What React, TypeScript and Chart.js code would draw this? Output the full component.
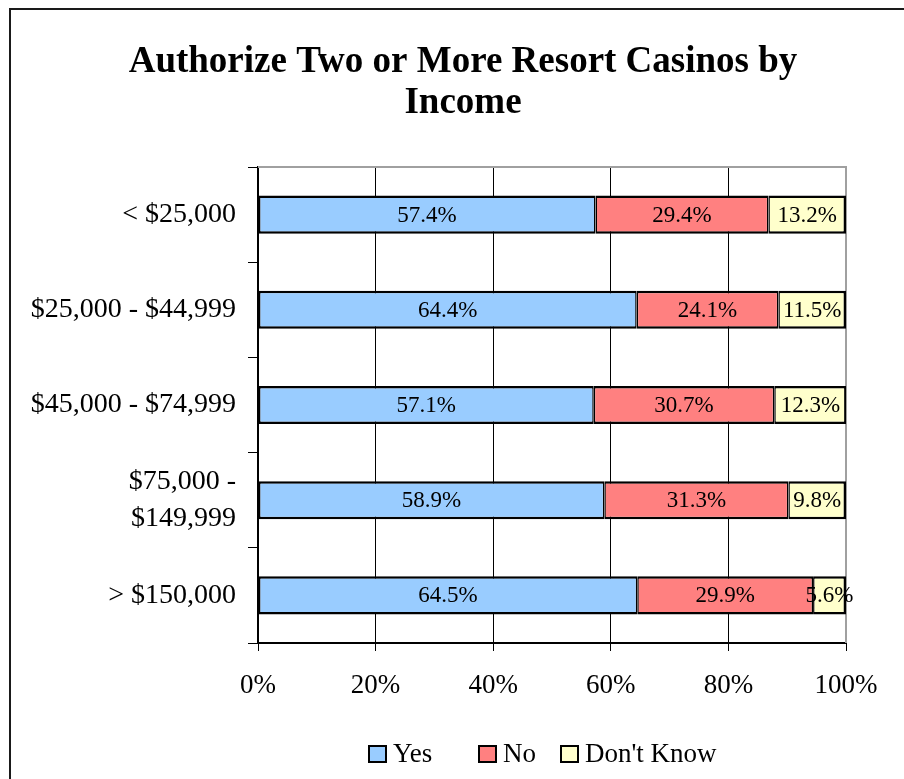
import React, { useEffect, useRef } from "react";
import { Chart, registerables } from "chart.js";

Chart.register(...registerables);

const TITLE_LINES = ["Authorize Two or More Resort Casinos by", "Income"];
const CATEGORIES: (string | string[])[] = [
  "< $25,000",
  "$25,000 - $44,999",
  "$45,000 - $74,999",
  ["$75,000 -", "$149,999"],
  "> $150,000",
];
const SERIES_NAMES = ["Yes", "No", "Don't Know"];
const YES = [57.4, 64.4, 57.1, 58.9, 64.5];
const NO = [29.4, 24.1, 30.7, 31.3, 29.9];
const DONT_KNOW = [13.2, 11.5, 12.3, 9.8, 5.6];
const COLORS = ["#99CCFF", "#FF8080", "#FFFFCC"];
const X_TICKS = [0, 20, 40, 60, 80, 100];

const FONT = "'Liberation Serif', 'Times New Roman', serif";

const framePlugin = {
  id: "frame",
  beforeDraw(chart: any) {
    const ctx = chart.ctx;
    ctx.save();
    ctx.fillStyle = "#ffffff";
    ctx.fillRect(0, 0, chart.width, chart.height);
    ctx.strokeStyle = "#1a1a1a";
    ctx.lineWidth = 2;
    ctx.strokeRect(10, 9, chart.width + 20, chart.height + 20);
    // title
    ctx.fillStyle = "#000";
    ctx.font = `bold 37px ${FONT}`;
    ctx.textAlign = "center";
    ctx.textBaseline = "alphabetic";
    ctx.fillText(TITLE_LINES[0], 463, 72);
    ctx.fillText(TITLE_LINES[1], 463, 113);
    ctx.restore();
  },
  beforeDatasetsDraw(chart: any) {
    const { ctx, chartArea } = chart;
    ctx.save();
    ctx.strokeStyle = "#a0a0a0";
    ctx.lineWidth = 2;
    ctx.beginPath();
    ctx.moveTo(chartArea.left, chartArea.top);
    ctx.lineTo(chartArea.right, chartArea.top);
    ctx.lineTo(chartArea.right, chartArea.bottom);
    ctx.stroke();
    ctx.restore();
  },
  afterDatasetsDraw(chart: any) {
    const ctx = chart.ctx;
    ctx.save();
    ctx.fillStyle = "#000";
    ctx.font = `23px ${FONT}`;
    ctx.textAlign = "center";
    ctx.textBaseline = "middle";
    chart.data.datasets.forEach((ds: any, di: number) => {
      const meta = chart.getDatasetMeta(di);
      meta.data.forEach((bar: any, i: number) => {
        const v = ds.data[i];
        const cx = (bar.x + bar.base) / 2;
        ctx.fillText(v.toFixed(1) + "%", cx, bar.y + 1);
      });
    });
    // legend
    const starts = [368, 478, 560];
    ctx.font = `27px ${FONT}`;
    ctx.textAlign = "left";
    ctx.textBaseline = "middle";
    SERIES_NAMES.forEach((name, i) => {
      const x = starts[i];
      ctx.fillStyle = COLORS[i];
      ctx.fillRect(x + 1, 746, 17, 16);
      ctx.strokeStyle = "#000";
      ctx.lineWidth = 2;
      ctx.strokeRect(x + 1, 746, 17, 16);
      ctx.fillStyle = "#000";
      ctx.fillText(name, x + 25, 755);
    });
    ctx.restore();
  },
};

function borders(i: number) {
  if (i === 0) return { top: 2.5, bottom: 2.5, left: 2, right: 1.5 };
  if (i === 2) return { top: 2.5, bottom: 2.5, left: 1.5, right: 2.5 };
  return { top: 2.5, bottom: 2.5, left: 1.5, right: 1.5 };
}

export default function App() {
  const ref = useRef<HTMLCanvasElement>(null);
  useEffect(() => {
    if (!ref.current) return;
    const seriesValues = [YES, NO, DONT_KNOW];
    const chart = new Chart(ref.current, {
      type: "bar",
      data: {
        labels: CATEGORIES as any,
        datasets: SERIES_NAMES.map((name, i) => ({
          label: name,
          data: seriesValues[i],
          backgroundColor: COLORS[i],
          borderColor: "#000",
          borderWidth: borders(i),
          borderSkipped: false,
          barPercentage: 0.4,
          categoryPercentage: 1,
        })),
      },
      options: {
        indexAxis: "y",
        responsive: false,
        animation: false,
        layout: { padding: { left: 0, right: 58, top: 167, bottom: 76 } },
        plugins: {
          legend: { display: false },
          title: { display: false },
          tooltip: { enabled: false },
        },
        scales: {
          x: {
            stacked: true,
            min: 0,
            max: 100,
            afterBuildTicks(scale: any) {
              scale.ticks = X_TICKS.map((v) => ({ value: v }));
            },
            afterFit(scale: any) {
              scale.height = 60;
            },
            ticks: {
              color: "#000",
              padding: 19,
              font: { family: FONT, size: 27 },
              callback: (v: any) => v + "%",
            },
            grid: {
              color: (c: any) => (c.index === 5 ? "#a0a0a0" : "#000"),
              lineWidth: 1,
              tickLength: 8,
              tickColor: "#000",
            },
            border: { display: true, color: "#000", width: 2 },
          },
          y: {
            stacked: true,
            afterFit(scale: any) {
              scale.width = 258;
            },
            ticks: {
              color: "#000",
              padding: 12,
              font: { family: FONT, size: 28, lineHeight: 1.3 },
            },
            grid: {
              drawOnChartArea: false,
              drawTicks: true,
              tickLength: 10,
              color: "#000",
              lineWidth: 1,
            },
            border: { display: true, color: "#000", width: 2 },
          },
        },
      },
      plugins: [framePlugin],
    });
    return () => chart.destroy();
  }, []);
  return (
    <div style={{ position: "fixed", left: 0, top: 0, width: 904, height: 779 }}>
      <canvas ref={ref} width={904} height={779} style={{ display: "block" }} />
    </div>
  );
}
